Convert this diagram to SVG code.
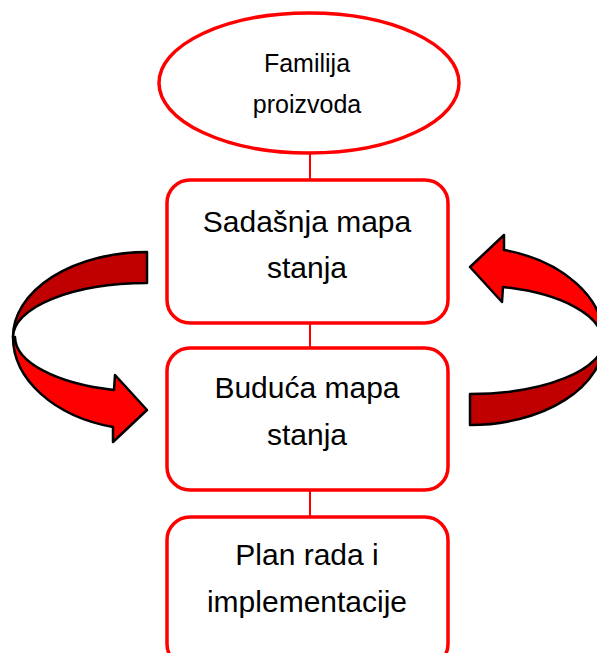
<svg xmlns="http://www.w3.org/2000/svg" xmlns:xlink="http://www.w3.org/1999/xlink" width="597" height="653" viewBox="0 0 597 653">
  <style>
    .node { fill: #FFFFFF; stroke: #FF0000; stroke-width: 3.5; }
    .conn { stroke: #FF0000; stroke-width: 2; fill: none; }
    .lbl { font-family: "Liberation Sans", Arial, sans-serif; font-size: 30px; fill: #000000; text-anchor: middle; }
    .lbl-sm { font-size: 25px; }
    .back { fill: #C00000; stroke: #000000; stroke-width: 2.5; stroke-linejoin: round; }
    .front { fill: #FF0000; stroke: #000000; stroke-width: 2.5; stroke-linejoin: round; }
  </style>
  <defs>
    <g id="cycle-arrow">
      <path class="back" d="M147,252 A134,85 0 0 0 13,337 A134,54 0 0 1 147,283 Z"/>
      <path class="front" d="M13,337 A134,93 0 0 0 113,427 L113,442 L147,410 L115,375 L114,390 A133,55 0 0 1 15,337 Z"/>
    </g>
  </defs>

  <g id="connectors">
    <line class="conn" x1="310" y1="153" x2="310" y2="180"/>
    <line class="conn" x1="310" y1="323" x2="310" y2="348"/>
    <line class="conn" x1="310" y1="490" x2="310" y2="517"/>
  </g>

  <g id="cycle-arrows">
    <use xlink:href="#cycle-arrow"/>
    <use xlink:href="#cycle-arrow" transform="rotate(180 308.5 338.5)"/>
  </g>

  <g id="familija-proizvoda">
    <ellipse class="node" cx="309" cy="83" rx="150" ry="70"/>
    <text class="lbl lbl-sm" x="307" y="72">Familija</text>
    <text class="lbl lbl-sm" x="307" y="113">proizvoda</text>
  </g>

  <g id="sadasnja-mapa-stanja">
    <rect class="node" x="167" y="180" width="281" height="143" rx="23" ry="23"/>
    <text class="lbl" x="307" y="232">Sadašnja mapa</text>
    <text class="lbl" x="307" y="278">stanja</text>
  </g>

  <g id="buduca-mapa-stanja">
    <rect class="node" x="167" y="348" width="281" height="142" rx="23" ry="23"/>
    <text class="lbl" x="307" y="398">Buduća mapa</text>
    <text class="lbl" x="307" y="445">stanja</text>
  </g>

  <g id="plan-rada">
    <rect class="node" x="167" y="517" width="281" height="150" rx="23" ry="23"/>
    <text class="lbl" x="307" y="565">Plan rada i</text>
    <text class="lbl" x="307" y="612">implementacije</text>
  </g>
</svg>
